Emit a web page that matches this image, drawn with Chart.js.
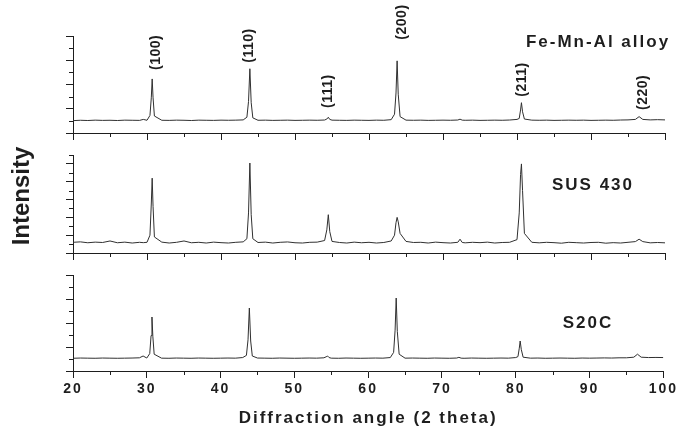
<!DOCTYPE html>
<html>
<head>
<meta charset="utf-8">
<title>XRD patterns</title>
<script src="https://cdn.jsdelivr.net/npm/chart.js@4.4.1/dist/chart.umd.min.js"></script>
<style>
  html, body { margin: 0; padding: 0; background: #fff; }
  #wrap { position: relative; width: 678px; height: 434px; }
  #wrap canvas { position: absolute; left: 0; top: 0; }
</style>
</head>
<body>
<div id="wrap">
  <canvas id="p1" width="678" height="434"></canvas>
  <canvas id="p2" width="678" height="434"></canvas>
  <canvas id="p3" width="678" height="434"></canvas>
</div>
<script>
/* =========================
   DATA
========================= */
// diffraction angle, 2 theta (deg) - one row per stretch, extra points on peaks
const twoTheta = [
    20, 21, 22, 23, 24, 25, 26, 27, 28, 29, 29.5,
    30, 30.4, 30.58, 30.7, 30.82, 31,
    32, 33, 34, 35, 36, 37, 38, 39, 40, 41, 42, 43,
    43.5, 43.72, 43.9, 44.08, 44.3,
    45, 46, 47, 48, 49, 50, 51, 52, 53, 54,
    54.3, 54.5, 54.7,
    55, 56, 57, 58, 59, 60, 61, 62, 63,
    63.45, 63.65, 63.8, 63.95, 64.2,
    65, 66, 67, 68, 69, 70, 71, 72,
    72.3, 72.6,
    73, 74, 75, 76, 77, 78, 79, 80,
    80.3, 80.48, 80.6, 80.75,
    81, 82, 83, 84, 85, 86, 87, 88, 89, 90, 91, 92, 93, 94, 95, 96,
    96.5,
    97, 98, 99, 100
];

// intensities in arbitrary units (axis ticks = 1 unit)
const feMnAl = [
    1.02, 1.05, 1.03, 1.06, 1.04, 1.05, 1.03, 1.06, 1.05, 1.04, 1.12,
    1.05, 1.45, 2.9, 4.46, 2.9, 1.4,
    1.05, 1.04, 1.06, 1.05, 1.03, 1.06, 1.05, 1.04, 1.06, 1.05, 1.06, 1.08,
    1.3, 2.6, 5.3, 2.5, 1.25,
    1.05, 1.06, 1.04, 1.05, 1.06, 1.04, 1.05, 1.06, 1.05, 1.07,
    1.15, 1.3, 1.12,
    1.06, 1.05, 1.04, 1.06, 1.05, 1.04, 1.06, 1.05, 1.1,
    1.55, 3.3, 5.95, 3.2, 1.35,
    1.06, 1.05, 1.06, 1.04, 1.05, 1.06, 1.05, 1.07,
    1.14, 1.06,
    1.05, 1.06, 1.04, 1.05, 1.06, 1.05, 1.07, 1.12,
    1.2, 1.9, 2.5, 1.75,
    1.15, 1.06, 1.05, 1.06, 1.04, 1.05, 1.06, 1.05, 1.06, 1.04, 1.05, 1.06, 1.05, 1.07, 1.08, 1.12,
    1.35,
    1.12, 1.08, 1.1, 1.08
];

const sus430 = [
    1.2, 1.25, 1.15, 1.22, 1.18, 1.35, 1.15, 1.22, 1.12, 1.2, 1.16,
    1.2, 2.0, 5.5, 8.4, 5.2, 1.8,
    1.22, 1.12, 1.2, 1.35, 1.15, 1.2, 1.12, 1.22, 1.16, 1.12, 1.2, 1.25,
    1.6, 4.5, 10.1, 4.3, 1.6,
    1.18, 1.22, 1.12, 1.2, 1.24, 1.15, 1.12, 1.2, 1.22, 1.4,
    2.6, 4.3, 2.4,
    1.3, 1.18, 1.12, 1.22, 1.15, 1.2, 1.12, 1.18, 1.35,
    2.0, 3.4, 4.0, 3.5, 2.2,
    1.3, 1.18, 1.2, 1.12, 1.22, 1.16, 1.12, 1.2,
    1.55, 1.18,
    1.14, 1.2, 1.16, 1.22, 1.12, 1.18, 1.2, 1.5,
    4.5, 8.8, 10.0, 7.0,
    2.2, 1.2, 1.14, 1.2, 1.16, 1.1, 1.2, 1.16, 1.12, 1.18, 1.2, 1.1, 1.16, 1.12, 1.2, 1.28,
    1.55,
    1.28, 1.14, 1.18, 1.14
];

const s20c = [
    1.06, 1.08, 1.07, 1.06, 1.08, 1.07, 1.06, 1.07, 1.08, 1.1, 1.25,
    1.08, 1.45, 2.95, 4.5, 2.9, 1.4,
    1.07, 1.06, 1.08, 1.07, 1.06, 1.08, 1.07, 1.06, 1.07, 1.08, 1.07, 1.12,
    1.3, 2.6, 5.25, 2.5, 1.25,
    1.08, 1.07, 1.06, 1.08, 1.07, 1.06, 1.07, 1.08, 1.07, 1.1,
    1.18, 1.25, 1.12,
    1.07, 1.06, 1.08, 1.07, 1.06, 1.07, 1.08, 1.07, 1.12,
    1.55, 3.4, 6.08, 3.3, 1.4,
    1.07, 1.08, 1.07, 1.06, 1.08, 1.07, 1.06, 1.08,
    1.14, 1.07,
    1.06, 1.08, 1.07, 1.06, 1.07, 1.08, 1.07, 1.12,
    1.2, 1.9, 2.5, 1.8,
    1.15, 1.07, 1.08, 1.06, 1.07, 1.08, 1.07, 1.06, 1.08, 1.07, 1.08, 1.09, 1.08, 1.1, 1.1, 1.15,
    1.4,
    1.15, 1.12, 1.13, 1.12
];

const panelNames = ['Fe-Mn-Al alloy', 'SUS 430', 'S20C'];
const panelMax = [8, 11, 8];

const xMajorTicks = [20, 30, 40, 50, 60, 70, 80, 90, 100];
const xMinorTicks = [25, 35, 45, 55, 65, 75, 85, 95];

// Miller indices marked on the top pattern
const peakLabels = ['(100)', '(110)', '(111)', '(200)', '(211)', '(220)'];
const peakLabelAngle = [31.2, 43.8, 54.45, 64.45, 80.65, 97.0];
const peakLabelBase = [5.2, 5.8, 2.07, 7.7, 3.0, 1.9];

/* =========================
   LAYOUT / STYLE
========================= */
const W = 678, H = 434;
const INK = '#1e1e1e';
const FONT = '"Liberation Sans", Arial, sans-serif';
const panelTop = [36, 155, 275];
const panelBottom = [133, 253, 371];
const nameX = [598, 593, 588];
const nameY = [42, 185, 323];

/* =========================
   DECORATION PLUGIN
========================= */
const decorPlugin = {
    id: 'decor',
    beforeDraw(chart) {
        // spaced-out tick numbers like the printed figure
        chart.ctx.letterSpacing = '2px';
    },
    afterDraw(chart, args, opts) {
        const ctx = chart.ctx;
        const xs = chart.scales.x;
        const ys = chart.scales.y;

        ctx.save();
        ctx.strokeStyle = INK;
        ctx.lineWidth = 1;

        // minor ticks
        ctx.beginPath();
        xMinorTicks.forEach(v => {
            const px = Math.round(xs.getPixelForValue(v)) + 0.5;
            ctx.moveTo(px, xs.top);
            ctx.lineTo(px, xs.top + 4);
        });
        for (let v = 1; v <= opts.yMax; v += 2) {
            const py = Math.round(ys.getPixelForValue(v)) + 0.5;
            ctx.moveTo(ys.right - 4, py);
            ctx.lineTo(ys.right, py);
        }
        ctx.stroke();

        ctx.fillStyle = INK;

        // sample name
        ctx.font = 'bold 17px ' + FONT;
        ctx.letterSpacing = '2px';
        ctx.textAlign = 'center';
        ctx.textBaseline = 'middle';
        ctx.fillText(opts.name, opts.nameX, opts.nameY);

        // peak indices
        if (opts.peaks) {
            ctx.font = 'bold 14px ' + FONT;
            ctx.letterSpacing = '0.5px';
            ctx.textAlign = 'left';
            peakLabels.forEach((txt, i) => {
                ctx.save();
                ctx.translate(xs.getPixelForValue(peakLabelAngle[i]), ys.getPixelForValue(peakLabelBase[i]));
                ctx.rotate(-Math.PI / 2);
                ctx.fillText(txt, 0, 0);
                ctx.restore();
            });
        }

        // axis titles
        if (opts.titles) {
            ctx.font = 'bold 17px ' + FONT;
            ctx.letterSpacing = '2px';
            ctx.textAlign = 'center';
            ctx.fillText('Diffraction angle (2 theta)', (xs.left + xs.right) / 2, 418);

            ctx.save();
            ctx.font = 'bold 24px ' + FONT;
            ctx.letterSpacing = '0px';
            ctx.translate(22, 196);
            ctx.rotate(-Math.PI / 2);
            ctx.fillText('Intensity', 0, 0);
            ctx.restore();
        }

        ctx.restore();
        ctx.letterSpacing = '0px';
    }
};

/* =========================
   BUILD ONE PANEL
========================= */
function buildPanel(canvasId, idx, values, showLabels) {
    const yMajor = [];
    for (let v = 0; v <= panelMax[idx]; v += 2) yMajor.push(v);

    return new Chart(document.getElementById(canvasId), {
        type: 'line',
        data: {
            datasets: [{
                data: twoTheta.map((a, i) => ({ x: a, y: values[i] })),
                borderColor: '#303030',
                borderWidth: 1,
                pointRadius: 0,
                tension: 0,
                fill: false
            }]
        },
        options: {
            responsive: false,
            animation: false,
            events: [],
            layout: { padding: { top: panelTop[idx], left: 0, right: 13, bottom: 0 } },
            plugins: {
                legend: { display: false },
                tooltip: { enabled: false },
                decor: {
                    name: panelNames[idx],
                    nameX: nameX[idx],
                    nameY: nameY[idx],
                    yMax: panelMax[idx],
                    peaks: idx === 0,
                    titles: showLabels
                }
            },
            scales: {
                x: {
                    type: 'linear',
                    min: 20,
                    max: 100,
                    afterBuildTicks: s => { s.ticks = xMajorTicks.map(v => ({ value: v })); },
                    afterFit: s => { s.height = H - panelBottom[idx]; },
                    ticks: {
                        display: showLabels,
                        autoSkip: false,
                        maxRotation: 0,
                        padding: 3,
                        color: INK,
                        font: { family: FONT, size: 14, weight: 'bold' }
                    },
                    grid: { display: true, drawOnChartArea: false, drawTicks: true, tickLength: 7, color: INK, tickColor: INK },
                    border: { display: true, color: INK, width: 1 }
                },
                y: {
                    min: 0,
                    max: panelMax[idx],
                    afterBuildTicks: s => { s.ticks = yMajor.map(v => ({ value: v })); },
                    afterFit: s => { s.width = 73; },
                    ticks: { display: false },
                    grid: { display: true, drawOnChartArea: false, drawTicks: true, tickLength: 7, color: INK, tickColor: INK },
                    border: { display: true, color: INK, width: 1 }
                }
            }
        },
        plugins: [decorPlugin]
    });
}

document.addEventListener('DOMContentLoaded', () => {
    buildPanel('p1', 0, feMnAl, false);
    buildPanel('p2', 1, sus430, false);
    buildPanel('p3', 2, s20c, true);
});
</script>
</body>
</html>
